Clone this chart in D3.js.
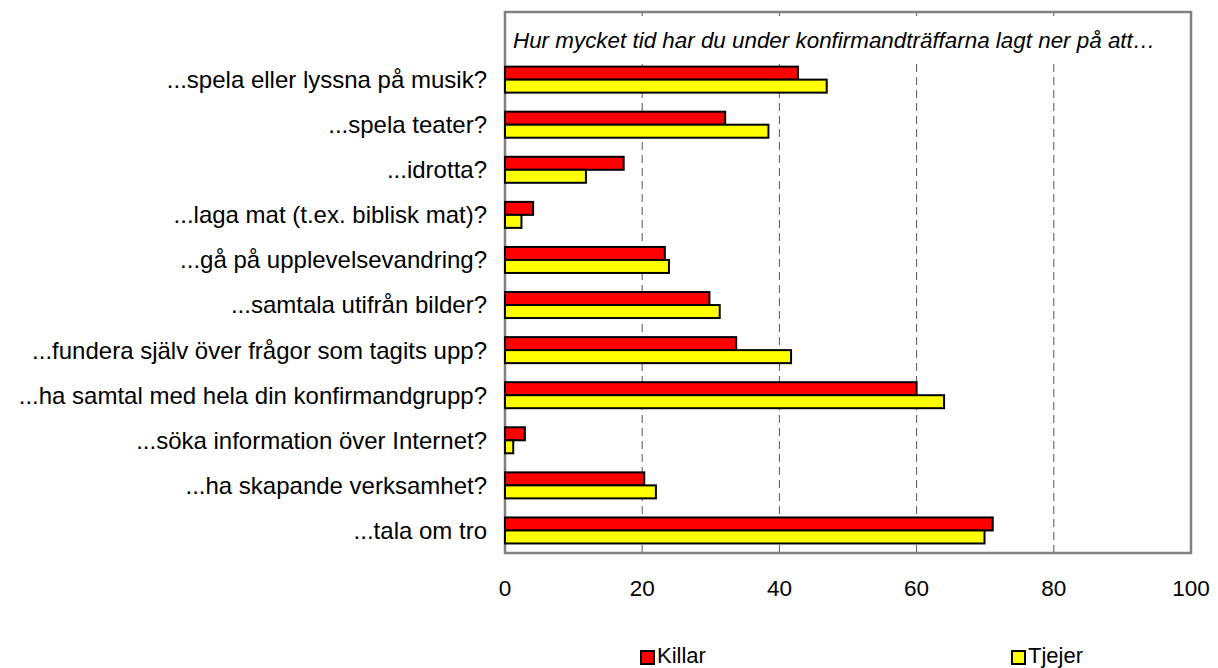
<!DOCTYPE html>
<html><head><meta charset="utf-8">
<script src="https://cdn.jsdelivr.net/npm/d3@7"></script>
<style>body{margin:0;background:#fff;} svg{display:block;font-family:"Liberation Sans",Arial,sans-serif;}</style>
</head><body>
<svg id="c" width="1218" height="668"></svg>
<script>
const categories = [
  "...spela eller lyssna på musik?",
  "...spela teater?",
  "...idrotta?",
  "...laga mat (t.ex. biblisk mat)?",
  "...gå på upplevelsevandring?",
  "...samtala utifrån bilder?",
  "...fundera själv över frågor som tagits upp?",
  "...ha samtal med hela din konfirmandgrupp?",
  "...söka information över Internet?",
  "...ha skapande verksamhet?",
  "...tala om tro"
];
const killar = [42.7, 32.1, 17.3, 4.1, 23.3, 29.8, 33.7, 60.0, 2.9, 20.3, 71.1];
const tjejer = [46.9, 38.4, 11.8, 2.4, 23.9, 31.3, 41.7, 64.0, 1.2, 22.0, 69.9];
const xTicks = [0, 20, 40, 60, 80, 100];
const seriesNames = ["Killar", "Tjejer"];
const seriesColors = ["#ff0000", "#ffff00"];
const title = "Hur mycket tid har du under konfirmandträffarna lagt ner på att…";

const svg = d3.select("#c");
const L = 505, R = 1191, T = 12, B = 553;
const x = d3.scaleLinear().domain([0, 100]).range([L, R]);
// top band left empty for the title
const y = d3.scaleBand().domain(["__title__", ...categories]).range([T, B]);
const barH = 13;

// grid
svg.append("g").selectAll("line").data(xTicks.filter(d => d > 0 && d < 100)).join("line")
  .attr("x1", d => x(d)).attr("x2", d => x(d)).attr("y1", T).attr("y2", B)
  .attr("stroke", "#555").attr("stroke-width", 1).attr("stroke-dasharray", "8,5");

// title with white background
const tg = svg.append("g");
tg.append("rect").attr("x", L + 2).attr("y", 16).attr("width", R - L - 4).attr("height", 44).attr("fill", "#fff");
tg.append("text").attr("x", 513).attr("y", 48).attr("font-size", 22.4).attr("font-style", "italic")
  .attr("fill", "#000").text(title);

// frame
svg.append("rect").attr("x", L).attr("y", T).attr("width", R - L).attr("height", B - T)
  .attr("fill", "none").attr("stroke", "#808080").attr("stroke-width", 2.5);

// bars
const data = [killar, tjejer];
data.forEach((vals, si) => {
  svg.append("g").selectAll("rect").data(vals).join("rect")
    .attr("x", x(0))
    .attr("y", (d, i) => y(categories[i]) + y.bandwidth() / 2 - barH + si * barH)
    .attr("width", d => x(d) - x(0))
    .attr("height", barH)
    .attr("fill", seriesColors[si]).attr("stroke", "#000").attr("stroke-width", 2);
});

// category labels
svg.append("g").selectAll("text").data(categories).join("text")
  .attr("x", 487).attr("y", d => y(d) + y.bandwidth() / 2).attr("dy", "0.35em")
  .attr("text-anchor", "end").attr("font-size", 24).attr("fill", "#000").text(d => d);

// x tick labels
svg.append("g").selectAll("text").data(xTicks).join("text")
  .attr("x", d => x(d)).attr("y", 596).attr("text-anchor", "middle")
  .attr("font-size", 22.5).attr("fill", "#000").text(d => d);

// legend
const legX = [641, 1012];
seriesNames.forEach((n, i) => {
  svg.append("rect").attr("x", legX[i]).attr("y", 651).attr("width", 13).attr("height", 13)
    .attr("fill", seriesColors[i]).attr("stroke", "#000").attr("stroke-width", 2);
  svg.append("text").attr("x", legX[i] + 16).attr("y", 663).attr("font-size", 22)
    .attr("fill", "#000").text(n);
});
</script>
</body></html>
